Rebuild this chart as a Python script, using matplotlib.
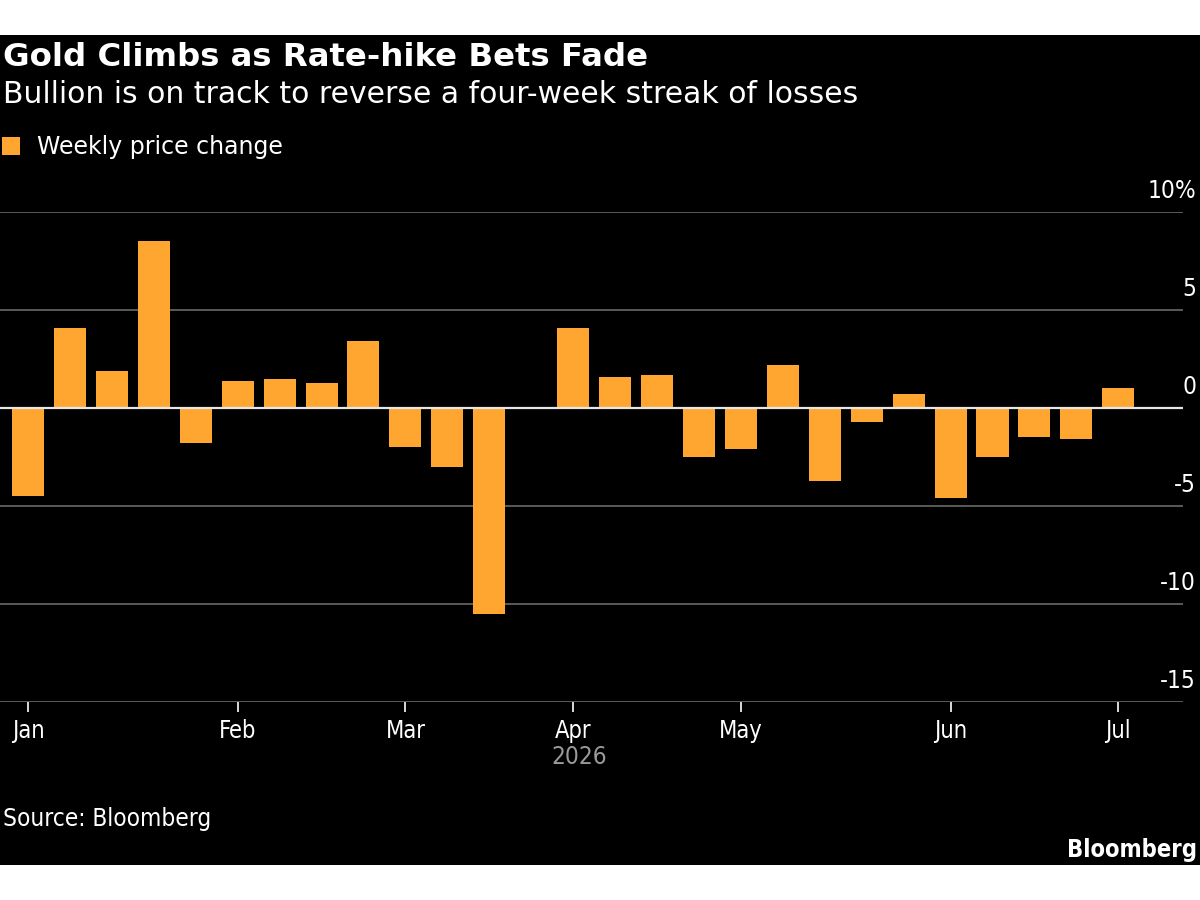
import datetime as dt
import matplotlib
matplotlib.use('Agg')
import matplotlib.pyplot as plt
from matplotlib.patches import Patch, Rectangle

plt.rcParams['font.family'] = ['DejaVu Sans']
plt.rcParams['font.stretch'] = 'condensed'

# weekly closes (Fridays), % change
weeks = ['2026-01-02', '2026-01-09', '2026-01-16', '2026-01-23', '2026-01-30',
         '2026-02-06', '2026-02-13', '2026-02-20', '2026-02-27',
         '2026-03-06', '2026-03-13', '2026-03-20', '2026-03-27',
         '2026-04-03', '2026-04-10', '2026-04-17', '2026-04-24',
         '2026-05-01', '2026-05-08', '2026-05-15', '2026-05-22', '2026-05-29',
         '2026-06-05', '2026-06-12', '2026-06-19', '2026-06-26',
         '2026-07-03']
change = [-4.5, 4.1, 1.9, 8.5, -1.8,
          1.4, 1.5, 1.3, 3.4,
          -2.0, -3.0, -10.5, 0.0,
          4.1, 1.6, 1.7, -2.5,
          -2.1, 2.2, -3.7, -0.7, 0.7,
          -4.6, -2.5, -1.5, -1.6,
          1.0]
month_ticks = ['2026-01-02', '2026-02-06', '2026-03-06', '2026-04-03',
               '2026-05-01', '2026-06-05', '2026-07-03']
month_labels = ['Jan', 'Feb', 'Mar', 'Apr', 'May', 'Jun', 'Jul']
y_ticks = [10, 5, 0, -5, -10, -15]
y_labels = ['10%', '5', '0', '-5', '-10', '-15']

orange = '#ffa631'
W, H = 1200, 900

dates = [dt.datetime.strptime(d, '%Y-%m-%d') for d in weeks]
tick_dates = [dt.datetime.strptime(d, '%Y-%m-%d') for d in month_ticks]

fig = plt.figure(figsize=(12, 9), dpi=100, facecolor='white')
fig.patches.append(Rectangle((0, 1 - 865 / H), 1, 830 / H, transform=fig.transFigure,
                             facecolor='black', edgecolor='none', zorder=-10))

ax = fig.add_axes([0, 1 - 702 / H, 1183 / W, 490 / H])
ax.set_facecolor('none')
ax.bar(dates, change, width=5.35, color=orange, zorder=3)

ax.set_ylim(-15, 10)
start = dates[0] - dt.timedelta(days=4.67)
end = dates[0] + dt.timedelta(days=192.8)
ax.set_xlim(start, end)

for v in y_ticks:
    ax.axhline(v, color='#e6e6e6' if v == 0 else '#5a5a5a', lw=1.6 if v == 0 else 1.4,
               zorder=4 if v == 0 else 1)
for v, lab in zip(y_ticks, y_labels):
    ax.text(1196 / 1183, v + 0.45, lab, transform=ax.get_yaxis_transform(),
            ha='right', va='bottom', color='white', fontsize=17.5)

ax.set_yticks([])
for s in ax.spines.values():
    s.set_visible(False)
ax.set_xticks(tick_dates)
ax.set_xticklabels(month_labels)
ax.tick_params(axis='x', colors='white', labelsize=17, length=7, width=1.2, pad=5)
ax.text(dt.datetime(2026, 4, 4), -17.8, '2026', ha='center', va='center',
        color='#9a9a9a', fontsize=17.5)

fig.text(3 / W, 1 - 66 / H, 'Gold Climbs as Rate-hike Bets Fade', color='white',
         fontsize=23.3, fontweight='bold', fontstretch='normal', ha='left', va='baseline')
fig.text(3 / W, 1 - 103 / H, 'Bullion is on track to reverse a four-week streak of losses',
         color='white', fontsize=21.5, fontstretch='normal', ha='left', va='baseline')
fig.legend(handles=[Patch(facecolor=orange, edgecolor='none')], labels=['Weekly price change'],
           loc='upper left', bbox_to_anchor=(0.0, 1 - 133 / H), frameon=False,
           handlelength=0.75, handleheight=0.75, handletextpad=0.7, borderaxespad=0,
           borderpad=0.1, prop={'size': 17, 'stretch': 'normal'}, labelcolor='white')
fig.text(3 / W, 1 - 826 / H, 'Source: Bloomberg', color='white', fontsize=17.5,
         ha='left', va='baseline')
fig.text(1197 / W, 1 - 857 / H, 'Bloomberg', color='white', fontsize=17,
         fontweight='bold', ha='right', va='baseline')

fig.savefig('out.png', dpi=100, facecolor='white')
